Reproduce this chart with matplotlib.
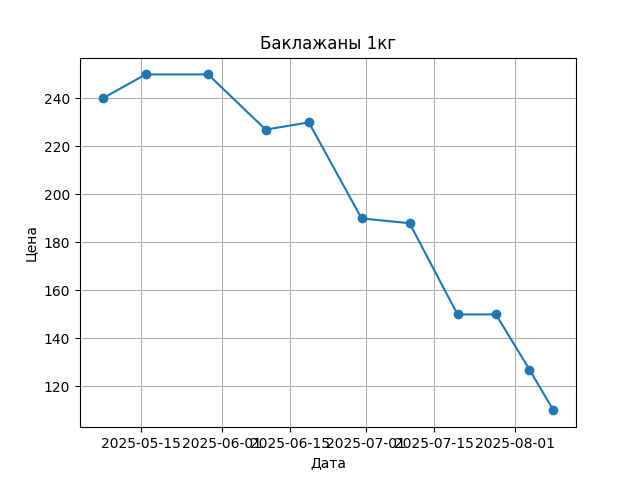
import matplotlib
matplotlib.use("Agg")
import matplotlib.pyplot as plt
import pandas as pd

dates = ["2025-05-07", "2025-05-16", "2025-05-29", "2025-06-10", "2025-06-19",
         "2025-06-30", "2025-07-10", "2025-07-20", "2025-07-28", "2025-08-04",
         "2025-08-09"]
prices = [240, 250, 250, 227, 230, 190, 188, 150, 150, 127, 110]

x = pd.to_datetime(dates)

fig, ax = plt.subplots(figsize=(6.4, 4.8), dpi=100)
ax.plot(x, prices, marker="o")
ax.set_title("Баклажаны 1кг")
ax.set_xlabel("Дата")
ax.set_ylabel("Цена")
ax.grid(True)
fig.savefig("out.png")
